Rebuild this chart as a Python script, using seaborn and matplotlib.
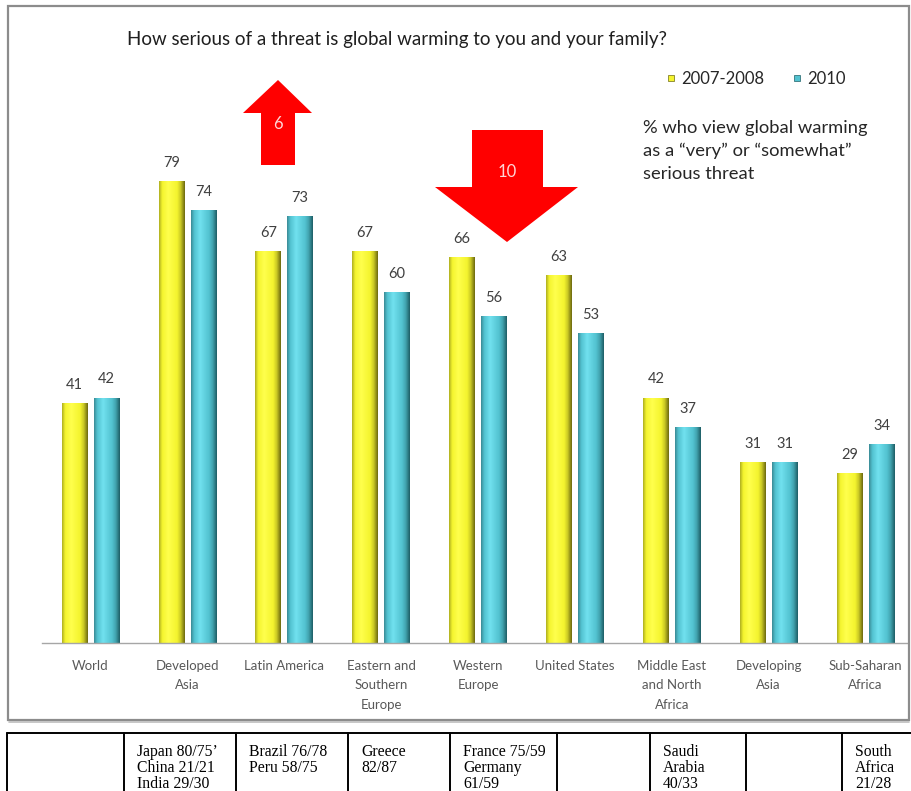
import numpy as np
import pandas as pd
import matplotlib
matplotlib.use("Agg")
import matplotlib.pyplot as plt
import seaborn as sns
from matplotlib.colors import LinearSegmentedColormap, to_rgb
from matplotlib.patches import Rectangle, Polygon
from matplotlib.lines import Line2D

# ---- data -------------------------------------------------------------
regions = ["World", "Developed\nAsia", "Latin America", "Eastern and\nSouthern\nEurope",
           "Western\nEurope", "United States", "Middle East\nand North\nAfrica",
           "Developing\nAsia", "Sub-Saharan\nAfrica"]
periods = ["2007-2008", "2010"]
values_0708 = [41, 79, 67, 67, 66, 63, 42, 31, 29]
values_2010 = [42, 74, 73, 60, 56, 53, 37, 31, 34]
country_notes = ["",
                 "Japan 80/75\u2019\nChina 21/21\nIndia 29/30",
                 "Brazil 76/78\nPeru 58/75",
                 "Greece\n82/87",
                 "France 75/59\nGermany\n61/59",
                 "",
                 "Saudi\nArabia\n40/33",
                 "",
                 "South\nAfrica\n21/28"]
title = "How serious of a threat is global warming to you and your family?"
note = "% who view global warming\nas a \u201cvery\u201d or \u201csomewhat\u201d\nserious threat"

df = pd.DataFrame({
    "region": regions * 2,
    "period": [periods[0]] * len(regions) + [periods[1]] * len(regions),
    "value": values_0708 + values_2010,
})

# ---- style ------------------------------------------------------------
sns.set_theme(style="white")
plt.rcParams["font.family"] = ["Lato", "DejaVu Sans"]

W, H = 912, 791
fig = plt.figure(figsize=(W / 100, H / 100), dpi=100)
fig.patch.set_facecolor("white")


def fx(px):
    return px / W


def fy(py):
    return 1 - py / H


base_colors = {"2007-2008": "#F4F42E", "2010": "#52C2D0"}
dark_colors = {"2007-2008": "#6E6A10", "2010": "#1E5F66"}

ax = fig.add_axes([fx(42), fy(643), fx(908) - fx(42), (643 - 58.5) / H])
sns.barplot(data=df, x="region", y="value", hue="period", palette=base_colors,
            width=0.66, gap=0.2, saturation=1, legend=False, ax=ax)

# cylinder-like shading clipped to each bar
for period, cont in zip(periods, ax.containers):
    base = np.array(to_rgb(base_colors[period]))
    dark = np.array(to_rgb(dark_colors[period]))
    light = np.minimum(base + 0.12, 1)
    cmap = LinearSegmentedColormap.from_list(
        period, [(0.0, base * 0.72), (0.12, base), (0.35, light),
                 (0.70, base), (0.84, base * 0.7 + dark * 0.3), (1.0, dark)])
    grad = np.linspace(0, 1, 64)[None, :]
    for bar in cont:
        x0, w, h = bar.get_x(), bar.get_width(), bar.get_height()
        im = ax.imshow(grad, cmap=cmap, aspect="auto", extent=[x0, x0 + w, 0, h],
                       zorder=bar.get_zorder() + 0.1, interpolation="bilinear")
        im.set_clip_path(bar)
    ax.bar_label(cont, padding=8, color="#404040", fontsize=10.5)

ax.set_xlim(-0.5, 8.437)
ax.set_ylim(0, 100)
ax.set_xticks(range(len(regions)))
ax.set_xticklabels(regions, color="#595959", fontsize=9.5, linespacing=1.75)
ax.tick_params(axis="x", length=0, pad=12)
ax.set_yticks([])
ax.set_xlabel("")
ax.set_ylabel("")
for side in ["left", "right", "top"]:
    ax.spines[side].set_visible(False)
ax.spines["bottom"].set_color("#A6A6A6")
ax.spines["bottom"].set_linewidth(1.0)
ax.patch.set_alpha(0)

# ---- texts ------------------------------------------------------------
fig.text(fx(127), fy(40), title, ha="left", va="center", fontsize=13.5, color="#1F1F1F")
fig.text(fx(643), fy(120), note, ha="left", va="top", fontsize=13.2,
         color="#262626", linespacing=1.5)

handles = [Line2D([], [], marker="s", linestyle="", markersize=5,
                  markerfacecolor=base_colors[p], markeredgecolor=dark_colors[p],
                  markeredgewidth=0.5) for p in periods]
fig.legend(handles, periods, loc="center left", bbox_to_anchor=(fx(666), fy(79)),
           ncol=2, frameon=False, fontsize=12, handlelength=0.6,
           handletextpad=0.3, columnspacing=1.7, labelcolor="#262626",
           borderaxespad=0, borderpad=0)

# ---- change arrows ----------------------------------------------------
rise = values_2010[2] - values_0708[2]
fall = values_0708[4] - values_2010[4]
up = [(278, 80), (312, 113), (295, 113), (295, 165), (261, 165), (261, 113), (243, 113)]
down = [(472, 130), (543, 130), (543, 187), (578, 187), (507, 242), (435, 187), (472, 187)]
for pts in (up, down):
    fig.patches.append(Polygon([(fx(a), fy(b)) for a, b in pts], closed=True,
                               facecolor="#FF0000", edgecolor="none",
                               transform=fig.transFigure))
fig.text(fx(278), fy(124), str(rise), ha="center", va="center", fontsize=12,
         color="#FFD6D6")
fig.text(fx(507), fy(172), str(fall), ha="center", va="center", fontsize=12,
         color="#FFD6D6")

# ---- chart frame ------------------------------------------------------
fig.patches.append(Rectangle((fx(8), fy(720)), fx(909) - fx(8), (720 - 6) / H,
                             fill=False, edgecolor="#8C8C8C", linewidth=1.6,
                             transform=fig.transFigure))
fig.add_artist(Line2D([fx(9), fx(909)], [fy(721.5), fy(721.5)], color="#BDBDBD",
                      linewidth=1.2, transform=fig.transFigure))

# ---- country table ----------------------------------------------------
col_edges = [7, 124, 236, 348, 450, 557, 650, 746, 842]
fig.add_artist(Line2D([fx(7), fx(912)], [fy(733), fy(733)], color="black",
                      linewidth=1.4, transform=fig.transFigure))
for cx in col_edges:
    fig.add_artist(Line2D([fx(cx), fx(cx)], [fy(733), fy(795)], color="black",
                          linewidth=1.4, transform=fig.transFigure))
for cx, txt in zip(col_edges, country_notes):
    if txt:
        fig.text(fx(cx + 13), fy(744), txt, ha="left", va="top", fontsize=11.3,
                 family=["Liberation Serif", "DejaVu Serif"], color="black",
                 linespacing=1.0)

fig.savefig("out.png", dpi=100)
